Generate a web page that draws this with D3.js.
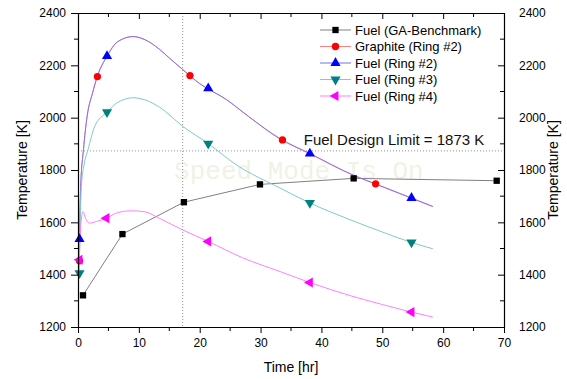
<!DOCTYPE html>
<html lang="en">
<head>
  <meta charset="UTF-8" />
  <title>Temperature vs Time</title>
  <script src="https://cdn.jsdelivr.net/npm/d3@7"></script>
  <style>
    body { margin: 0; background: #fff; }
    svg { display: block; font-family: Arial, "Liberation Sans", sans-serif; }
  </style>
</head>
<body>
  <div id="chart"></div>
  <script>
    // Curves (time [hr], temperature [K])
    const ring2Time  = [0.2, 0.44, 0.9, 1.5, 2.4, 3.19, 4.77, 6.5, 9.05, 11, 13.4, 15, 17.2, 20, 24.4, 28, 33.2, 38.1, 45.3, 48.9, 54.8, 58.3];
    const ring2Temp  = [1536, 1737, 1878, 2005, 2095, 2160, 2235, 2290, 2310, 2298, 2261, 2228, 2184, 2130, 2069, 2005, 1920, 1863, 1780, 1747, 1693, 1661];
    const graphTime  = [0.2, 0.44, 0.9, 1.5, 2.4, 3.19, 4.77, 6.5, 9.05, 11, 13.4, 15, 17.2, 20, 24.4, 28, 33.2, 38.1, 45.3, 48.9, 54.8, 58.3];
    const graphTemp  = [1453, 1737, 1878, 2005, 2095, 2157, 2235, 2290, 2310, 2298, 2261, 2228, 2184, 2130, 2069, 2005, 1918, 1862, 1779, 1746, 1692, 1660];
    const ring3Time  = [0.2, 0.55, 1.0, 1.65, 2.75, 4.77, 6.5, 9.05, 11, 13.4, 17.2, 21.4, 26, 33.2, 38.1, 44.7, 50, 54.8, 58.3];
    const ring3Temp  = [1406, 1737, 1820, 1878, 1967, 2021, 2058, 2076, 2068, 2040, 1967, 1901, 1820, 1731, 1674, 1610, 1563, 1523, 1499];
    const ring4Time  = [0.2, 0.5, 0.82, 1.3, 1.92, 3, 4.67, 6.5, 8.8, 11, 13.4, 17.2, 21.4, 27, 33.2, 38.1, 45, 50, 54.8, 58.3];
    const ring4Temp  = [1457, 1600, 1641, 1612, 1597, 1603, 1616, 1637, 1644, 1640, 1615, 1571, 1527, 1465, 1412, 1370, 1318, 1286, 1257, 1238];
    const benchTime  = [0.82, 7.3, 17.4, 29.9, 45.3, 68.8];
    const benchTemp  = [1321, 1555, 1677, 1745, 1768, 1759];

    // Sparse markers drawn on the curves
    const graphMarkTime = [0.25, 3.19, 18.4, 33.6, 48.9];
    const graphMarkTemp = [1453, 2157, 2161, 1915, 1747];
    const ring2MarkTime = [0.25, 4.77, 21.4, 38.1, 54.8];
    const ring2MarkTemp = [1536, 2235, 2112, 1863, 1693];
    const ring3MarkTime = [0.25, 4.77, 21.4, 38.1, 54.8];
    const ring3MarkTemp = [1406, 2021, 1901, 1674, 1523];
    const ring4MarkTime = [0.25, 4.67, 21.4, 38.1, 54.8];
    const ring4MarkTemp = [1457, 1616, 1527, 1370, 1257];

    const legendLabels = ["Fuel (GA-Benchmark)", "Graphite (Ring #2)", "Fuel (Ring #2)", "Fuel (Ring #3)", "Fuel (Ring #4)"];
    const xTicks = [0, 10, 20, 30, 40, 50, 60, 70];
    const yTicks = [1200, 1400, 1600, 1800, 2000, 2200, 2400];
    const designLimit = 1873;
    const markerTime = 17.2;

    const zip = (a, b) => a.map((v, i) => ({ t: v, T: b[i] }));

    const series = [
      { name: legendLabels[0], line: zip(benchTime, benchTemp), marks: zip(benchTime, benchTemp), lineColor: "#808080", color: "#000000", sym: d3.symbolSquare, size: 40, rot: 0, curve: d3.curveLinear, opacity: 1 },
      { name: legendLabels[1], line: zip(graphTime, graphTemp), marks: zip(graphMarkTime, graphMarkTemp), lineColor: "#ff8080", color: "#ff0000", sym: d3.symbolCircle, size: 42, rot: 0, curve: d3.curveMonotoneX, opacity: 1 },
      { name: legendLabels[2], line: zip(ring2Time, ring2Temp), marks: zip(ring2MarkTime, ring2MarkTemp), lineColor: "#7070ff", color: "#0000ff", sym: d3.symbolTriangle, size: 45, rot: 0, curve: d3.curveMonotoneX, opacity: 0.85 },
      { name: legendLabels[3], line: zip(ring3Time, ring3Temp), marks: zip(ring3MarkTime, ring3MarkTemp), lineColor: "#7fcaca", color: "#008080", sym: d3.symbolTriangle, size: 45, rot: 180, curve: d3.curveMonotoneX, opacity: 1 },
      { name: legendLabels[4], line: zip(ring4Time, ring4Temp), marks: zip(ring4MarkTime, ring4MarkTemp), lineColor: "#ff80ff", color: "#ff00ff", sym: d3.symbolTriangle, size: 45, rot: -90, curve: d3.curveMonotoneX, opacity: 1 }
    ];

    const W = 567, H = 379;
    const margin = { top: 13, right: 63, bottom: 52, left: 78 };
    const width = W - margin.left - margin.right;
    const height = H - margin.top - margin.bottom;

    const svg = d3.select("#chart").append("svg")
      .attr("width", W).attr("height", H);
    const g = svg.append("g").attr("transform", `translate(${margin.left},${margin.top})`);

    const x = d3.scaleLinear().domain([0, 70]).range([0, width]);
    const y = d3.scaleLinear().domain([1200, 2400]).range([height, 0]);

    // watermark
    g.append("text")
      .attr("x", x(36.3)).attr("y", y(1765))
      .attr("text-anchor", "middle")
      .attr("font-family", "'Liberation Mono', 'DejaVu Sans Mono', monospace")
      .attr("font-size", 26)
      .attr("fill", "#f1f1e6")
      .text("Speed Mode Is On");

    // reference lines
    g.append("line")
      .attr("x1", 0).attr("x2", width)
      .attr("y1", y(designLimit)).attr("y2", y(designLimit))
      .attr("stroke", "#777").attr("stroke-width", 0.8).attr("stroke-dasharray", "1,2");
    g.append("line")
      .attr("x1", x(markerTime)).attr("x2", x(markerTime))
      .attr("y1", 0).attr("y2", height)
      .attr("stroke", "#777").attr("stroke-width", 0.8).attr("stroke-dasharray", "1,2");

    g.append("text")
      .attr("x", x(37.1)).attr("y", y(designLimit) - 6)
      .attr("font-size", 15).attr("fill", "#111")
      .text("Fuel Design Limit = 1873 K");

    // lines
    series.forEach(s => {
      g.append("path")
        .datum(s.line)
        .attr("fill", "none")
        .attr("stroke", s.lineColor)
        .attr("stroke-width", 1)
        .attr("stroke-opacity", s.opacity)
        .attr("d", d3.line().curve(s.curve).x(d => x(d.t)).y(d => y(d.T)));
    });

    // markers
    series.forEach(s => {
      g.selectAll(null)
        .data(s.marks)
        .join("path")
          .attr("transform", d => `translate(${x(d.t)},${y(d.T)}) rotate(${s.rot})`)
          .attr("d", d3.symbol().type(s.sym).size(s.size))
          .attr("fill", s.color);
    });

    // axes
    const axisStyle = sel => {
      sel.select(".domain").attr("stroke", "#000").attr("stroke-width", 1.2);
      sel.selectAll(".tick line").attr("stroke", "#000").attr("stroke-width", 1);
      sel.selectAll("text").attr("font-size", 12).attr("fill", "#000");
    };
    const fmt = d3.format("d");
    const xMinor = d3.range(5, 70, 10);
    const yMinor = d3.range(1300, 2400, 200);

    const axisBottomG = g.append("g").attr("transform", `translate(0,${height})`)
      .call(d3.axisBottom(x).tickValues(xTicks).tickFormat(fmt).tickSize(6).tickPadding(5).tickSizeOuter(0));
    axisStyle(axisBottomG);
    axisBottomG.selectAll(".minor").data(xMinor).join("line").attr("class", "minor")
      .attr("x1", d => x(d)).attr("x2", d => x(d)).attr("y1", 0).attr("y2", 4).attr("stroke", "#000");

    const axisTopG = g.append("g")
      .call(d3.axisTop(x).tickValues(xTicks).tickSize(-6).tickFormat("").tickSizeOuter(0));
    axisStyle(axisTopG);
    axisTopG.selectAll(".minor").data(xMinor).join("line").attr("class", "minor")
      .attr("x1", d => x(d)).attr("x2", d => x(d)).attr("y1", 0).attr("y2", 4).attr("stroke", "#000");

    const axisLeftG = g.append("g")
      .call(d3.axisLeft(y).tickValues(yTicks).tickFormat(fmt).tickSize(7).tickPadding(5).tickSizeOuter(0));
    axisStyle(axisLeftG);
    axisLeftG.selectAll(".minor").data(yMinor).join("line").attr("class", "minor")
      .attr("x1", -4).attr("x2", 0).attr("y1", d => y(d)).attr("y2", d => y(d)).attr("stroke", "#000");

    const axisRightG = g.append("g").attr("transform", `translate(${width},0)`)
      .call(d3.axisRight(y).tickValues(yTicks).tickFormat(fmt).tickSize(-6).tickPadding(15).tickSizeOuter(0));
    axisStyle(axisRightG);
    axisRightG.selectAll(".minor").data(yMinor).join("line").attr("class", "minor")
      .attr("x1", -4).attr("x2", 0).attr("y1", d => y(d)).attr("y2", d => y(d)).attr("stroke", "#000");

    // axis titles
    svg.append("text")
      .attr("transform", `translate(27,${margin.top + height / 2}) rotate(-90)`)
      .attr("text-anchor", "middle").attr("font-size", 14).attr("fill", "#000")
      .text("Temperature [K]");
    svg.append("text")
      .attr("transform", `translate(558,${margin.top + height / 2}) rotate(-90)`)
      .attr("text-anchor", "middle").attr("font-size", 14).attr("fill", "#000")
      .text("Temperature [K]");
    svg.append("text")
      .attr("x", margin.left + width / 2).attr("y", 372)
      .attr("text-anchor", "middle").attr("font-size", 14).attr("fill", "#000")
      .text("Time [hr]");

    // legend
    const legend = svg.append("g").attr("transform", "translate(320,30)");
    series.forEach((s, i) => {
      const row = legend.append("g").attr("transform", `translate(0,${i * 16.5})`);
      row.append("line").attr("x1", 0).attr("x2", 31).attr("y1", 0).attr("y2", 0)
        .attr("stroke", s.lineColor).attr("stroke-width", 1);
      row.append("path")
        .attr("transform", `translate(15.5,0) rotate(${s.rot})`)
        .attr("d", d3.symbol().type(s.sym).size(s.size))
        .attr("fill", s.color);
      row.append("text").attr("x", 35).attr("y", 4.5)
        .attr("font-size", 13).attr("fill", "#000")
        .text(s.name);
    });
  </script>
</body>
</html>
